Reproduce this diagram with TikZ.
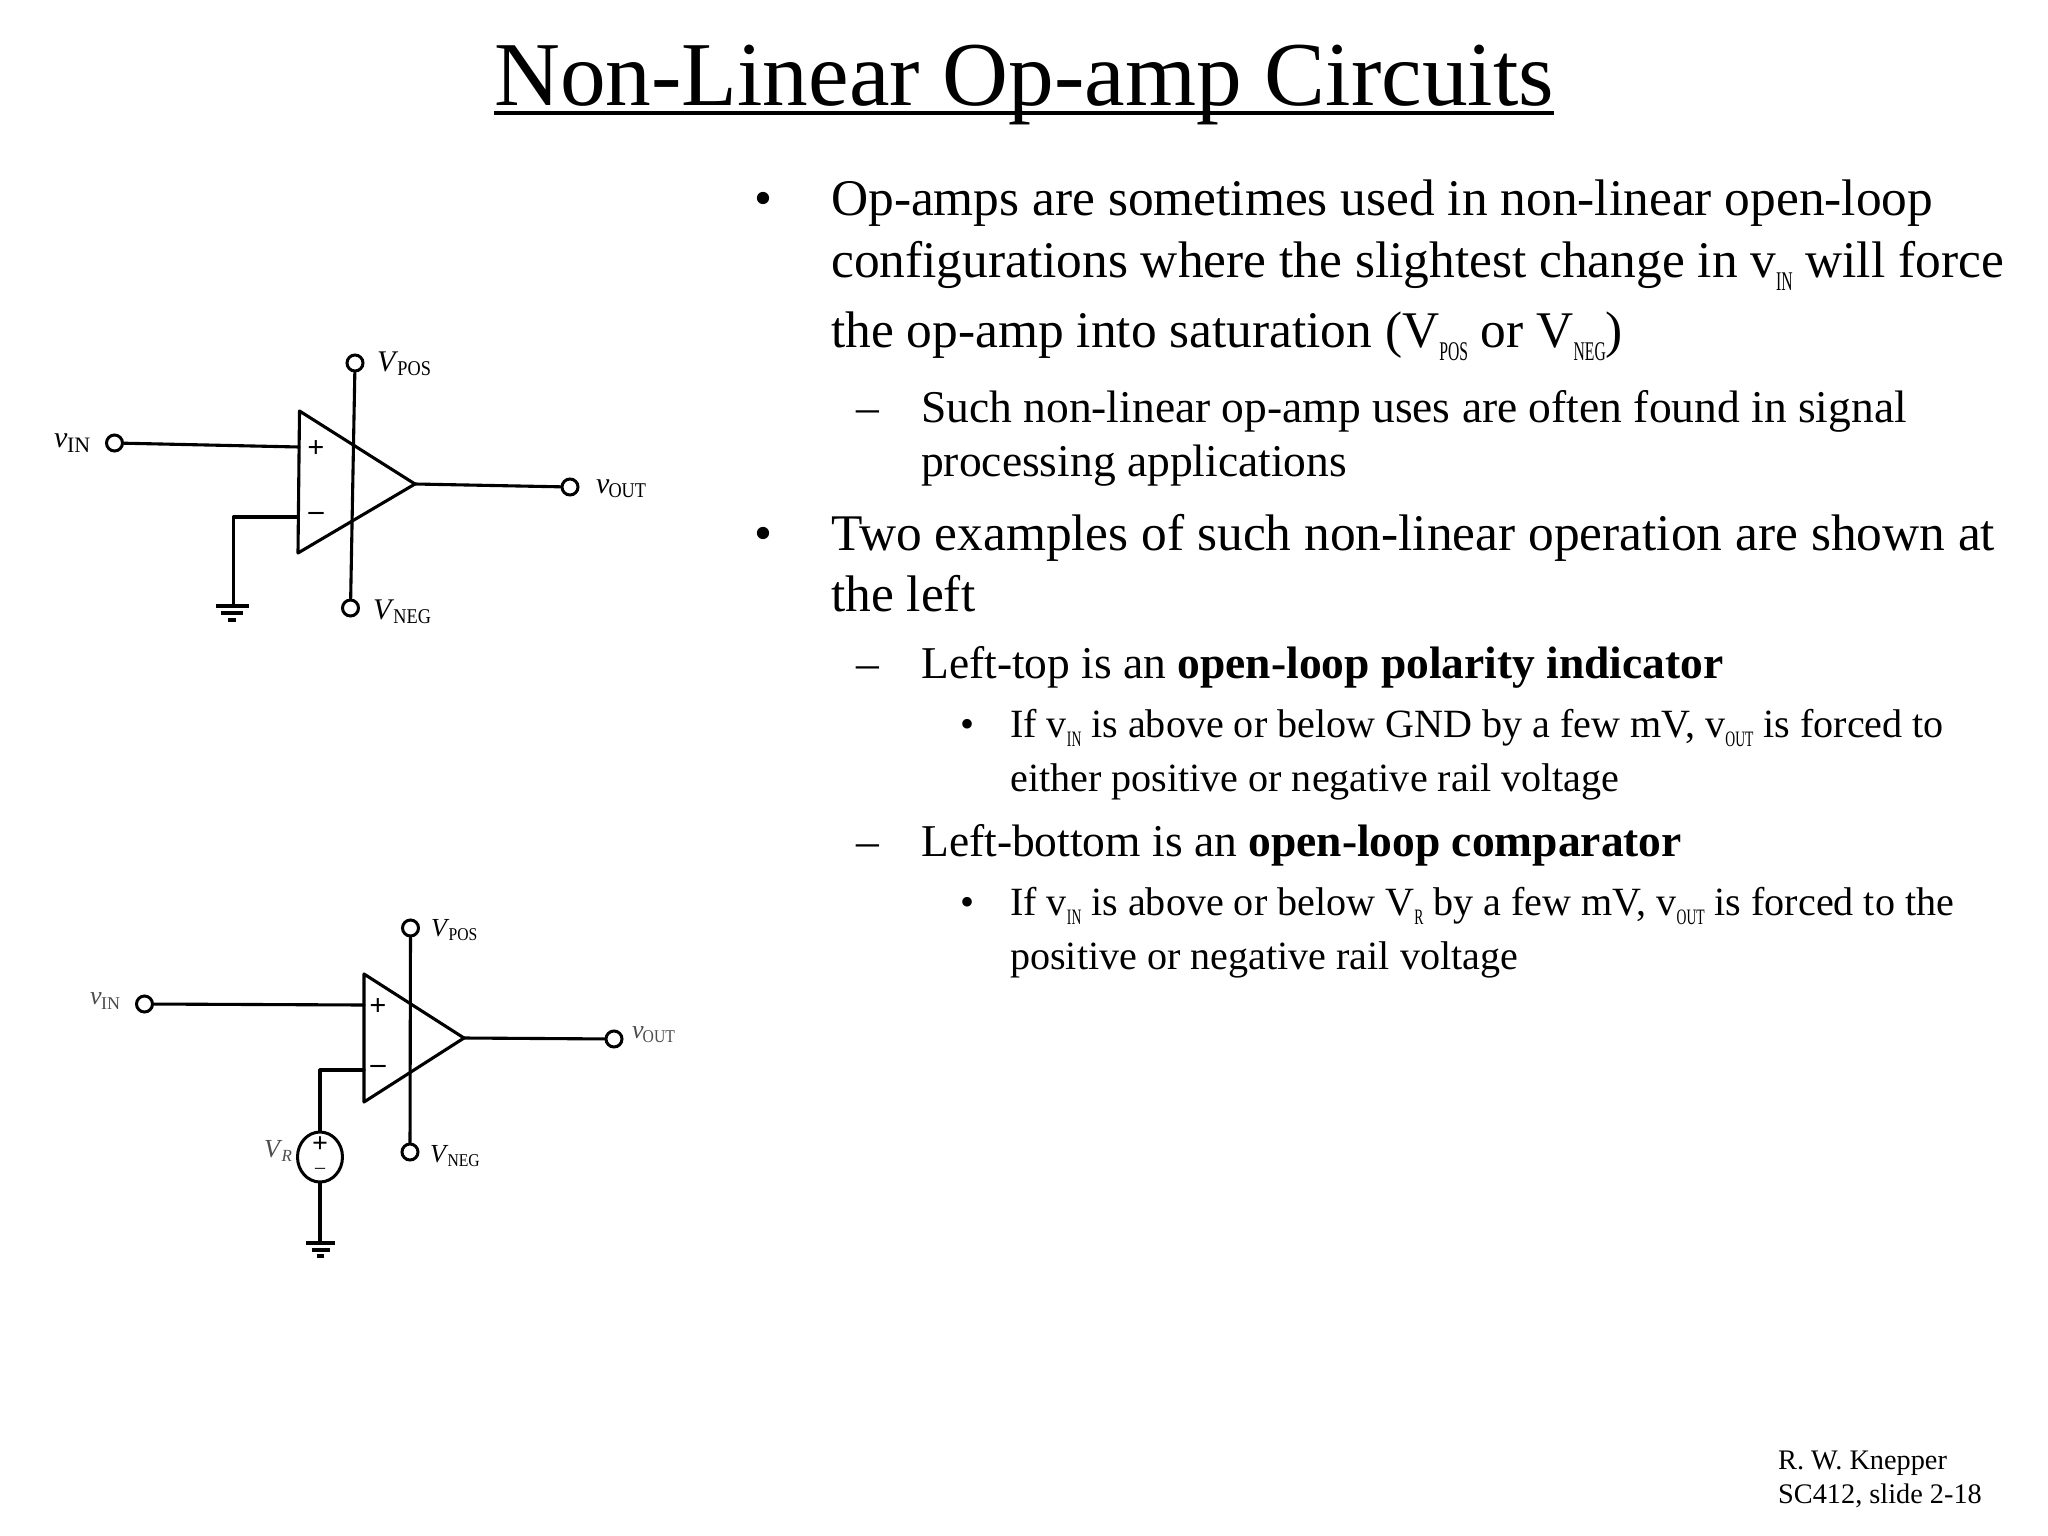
\documentclass[tikz,border=0pt]{standalone}
\usepackage{fontspec}
\setmainfont{Liberation Serif}
\usepackage{graphicx}
\usetikzlibrary{shapes.geometric}
\newcommand{\lsub}[1]{\raisebox{-13pt}{\scalebox{0.58}[1]{\fontsize{27}{27}\selectfont #1}}}
\newcommand{\ssub}[1]{\raisebox{-9pt}{\scalebox{0.62}[1]{\fontsize{22}{22}\selectfont #1}}}
\newcommand{\cv}[2]{\textit{#1}\kern-1pt\raisebox{-4pt}{\scalebox{0.87}[1]{\fontsize{21}{21}\selectfont #2}}}
\newcommand{\cw}[2]{\textit{#1}\kern-1pt\raisebox{-4pt}{\scalebox{0.87}[1]{\fontsize{18}{18}\selectfont #2}}}
\newcommand{\cn}[2]{\textit{#1}\kern-0.5pt\raisebox{-5pt}{\fontsize{22}{22}\selectfont #2}}
\tikzset{
 lone/.style={anchor=base west,inner sep=0pt,font=\fontsize{51.4}{52}\selectfont},
 ltwo/.style={anchor=base west,inner sep=0pt,font=\fontsize{45.5}{46}\selectfont},
 lthree/.style={anchor=base west,inner sep=0pt,font=\fontsize{40.1}{41}\selectfont},
 foot/.style={anchor=base west,inner sep=0pt,font=\fontsize{28.3}{29}\selectfont},
 wire/.style={line width=3.1pt,line cap=round,line join=round},
 term/.style={circle,draw,line width=3pt,fill=white,minimum size=16pt,inner sep=0pt},
 sign/.style={inner sep=0pt,font=\fontsize{30}{30}\selectfont\bfseries},
 clabel/.style={anchor=base west,inner sep=0pt,font=\fontsize{30}{30}\selectfont},
 clabelb/.style={anchor=base west,inner sep=0pt,font=\fontsize{26}{26}\selectfont},
}
\begin{document}
\begin{tikzpicture}[x=1pt,y=-1pt]
\useasboundingbox (0,0) rectangle (2048,1536);
% title
\node[anchor=base,inner sep=0pt,font=\fontsize{91.3}{92}\selectfont] (title) at (1024,106) {Non-Linear Op-amp Circuits};
\coordinate (tl) at (494,113); \coordinate (tr) at (1554,113);
\draw[line width=4.5pt] (tl) -- (tr);
% bullets
\node[lone] (b1) at (754,215) {•};
\node[lone] (t1) at (831,215) {Op-amps are sometimes used in non-linear open-loop};
\node[lone] (t2) at (831,277) {configurations where the slightest change in v\lsub{IN} will force};
\node[lone] (t3) at (831,347) {the op-amp into saturation (V\lsub{POS} or V\lsub{NEG})};
\node[ltwo] (d1) at (856,422) {–};
\node[ltwo] (t4) at (921,422) {Such non-linear op-amp uses are often found in signal};
\node[ltwo] (t5) at (921,476) {processing applications};
\node[lone] (b2) at (754,550) {•};
\node[lone] (t6) at (831,550) {Two examples of such non-linear operation are shown at};
\node[lone] (t7) at (831,611) {the left};
\node[ltwo] (d2) at (856,678) {–};
\node[ltwo] (t8) at (921,678) {Left-top is an \textbf{open-loop polarity indicator}};
\node[lthree] (b3) at (960,737) {•};
\node[lthree] (t9) at (1010,737) {If v\ssub{IN} is above or below GND by a few mV, v\ssub{OUT} is forced to};
\node[lthree] (t10) at (1010,791) {either positive or negative rail voltage};
\node[ltwo] (d3) at (856,856) {–};
\node[ltwo] (t11) at (921,856) {Left-bottom is an \textbf{open-loop comparator}};
\node[lthree] (b4) at (960,915) {•};
\node[lthree] (t12) at (1010,915) {If v\ssub{IN} is above or below V\ssub{R} by a few mV, v\ssub{OUT} is forced to the};
\node[lthree] (t13) at (1010,969) {positive or negative rail voltage};
\node[foot] (f1) at (1778,1469) {R. W. Knepper};
\node[foot] (f2) at (1778,1503) {SC412, slide 2-18};
% op-amp 1
\node[term] (vin) at (114.5,443) {};
\node[term] (vout) at (570,487) {};
\node[term] (vpos) at (355,363) {};
\node[term] (vneg) at (350.5,608) {};
\coordinate (a) at (299.5,411); \coordinate (bb) at (298,553); \coordinate (c) at (415,484);
\coordinate (ip) at (299,447); \coordinate (im) at (298,517);
\coordinate (gc) at (233.5,517); \coordinate (g) at (233.5,606);
\draw[wire] (a) -- (c) -- (bb) -- cycle;
\draw[wire] (vin) -- (ip);
\draw[wire] (c) -- (vout);
\draw[wire] (vpos) -- (vneg);
\draw[wire] (im) -- (gc) -- (g);
\draw[line width=3.4pt] (216,606) -- (249,606);
\draw[line width=3.4pt] (221,613) -- (243,613);
\draw[line width=3.4pt] (228,620) -- (236,620);
\node[sign] (pl) at (316,449) {+};
\node[sign] (mi) at (316,516) {–};
\node[clabel] (lvin) at (54,447) {\cn{v}{IN}};
\node[clabel] (lvout) at (596,493) {\cv{v}{OUT}};
\node[clabel] (lvpos) at (377,371) {\cv{V}{POS}};
\node[clabel] (lvneg) at (373,619) {\cv{V}{NEG}};
% op-amp 2
\node[term] (wvin) at (144.5,1004) {};
\node[term] (wvout) at (614,1039) {};
\node[term] (wvpos) at (410.5,928) {};
\node[term] (wvneg) at (410,1152) {};
\coordinate (wa) at (364,974); \coordinate (wb) at (364,1102); \coordinate (wc) at (464,1038);
\coordinate (wip) at (364,1005); \coordinate (wim) at (364,1070);
\coordinate (wgc) at (320,1070); \coordinate (wg) at (320,1243);
\draw[wire] (wa) -- (wc) -- (wb) -- cycle;
\draw[wire] (wvin) -- (wip);
\draw[wire] (wc) -- (wvout);
\draw[wire] (wvpos) -- (wvneg);
\draw[wire] (wim) -- (wgc) -- (wg);
\node[ellipse,draw,line width=3pt,fill=white,minimum width=45pt,minimum height=50pt,inner sep=0pt] (src) at (320,1157) {};
\draw[line width=3.4pt] (306,1243) -- (334.5,1243);
\draw[line width=3.4pt] (311.5,1250) -- (329.5,1250);
\draw[line width=3.4pt] (316.5,1256) -- (323.5,1256);
\node[sign] (wpl) at (378,1007) {+};
\node[sign] (wmi) at (378,1069) {–};
\node[sign,font=\fontsize{28}{28}\selectfont\bfseries] (spl) at (320,1145) {+};
\node[sign,font=\fontsize{20}{20}\selectfont] (smi) at (320,1171) {–};
\node[clabelb,text=black!70] (wlvin) at (90,1004) {\cn{v}{\fontsize{18}{18}\selectfont IN}};
\node[clabelb,text=black!70] (wlvout) at (632,1038) {\cw{v}{OUT}};
\node[clabelb] (wlvpos) at (431,936) {\cw{V}{POS}};
\node[clabelb] (wlvneg) at (430,1162) {\cw{V}{NEG}};
\node[clabelb,text=black!70] (wlvr) at (264,1157) {\textit{V}\kern-1pt\raisebox{-4pt}{\fontsize{17}{17}\selectfont\textit{R}}};
\end{tikzpicture}
\end{document}
